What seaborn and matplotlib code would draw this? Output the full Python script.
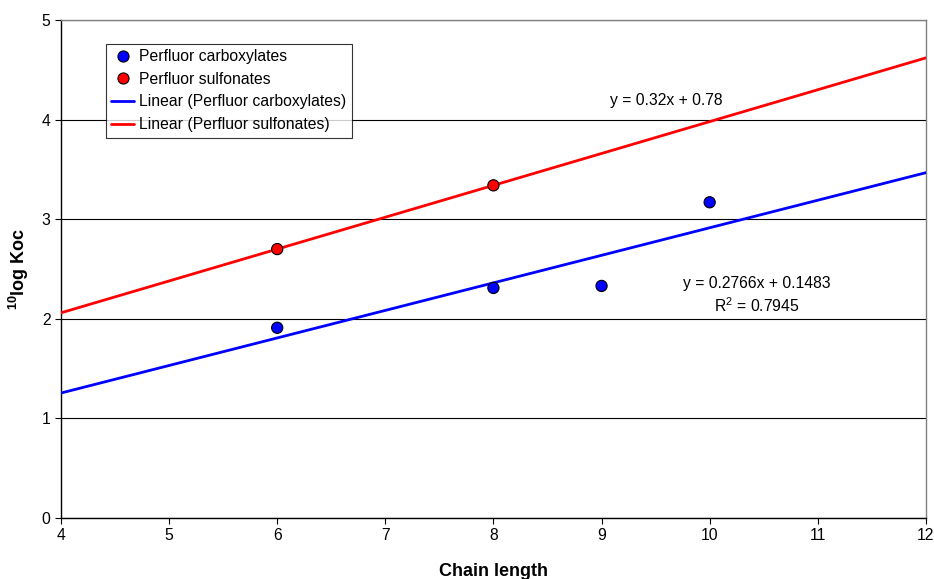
import numpy as np
import pandas as pd
import seaborn as sns
import matplotlib
matplotlib.use("Agg")
import matplotlib.pyplot as plt

sns.set_style("white")
plt.rcParams['font.family'] = ['Liberation Sans', 'DejaVu Sans']
plt.rcParams['mathtext.fontset'] = 'custom'
plt.rcParams['mathtext.rm'] = 'Liberation Sans'
plt.rcParams['mathtext.bf'] = 'Liberation Sans:bold'
plt.rcParams['text.color'] = 'black'
plt.rcParams['axes.labelcolor'] = 'black'
plt.rcParams['xtick.color'] = 'black'
plt.rcParams['ytick.color'] = 'black'

# data
carbox_x = [6, 8, 9, 10]
carbox_y = [1.91, 2.31, 2.33, 3.17]
sulfo_x = [6, 8]
sulfo_y = [2.70, 3.34]
names = ["Perfluor carboxylates", "Perfluor sulfonates"]
colors = ["#0000FF", "#FF0000"]

df = pd.DataFrame({
    "chain": carbox_x + sulfo_x,
    "koc": carbox_y + sulfo_y,
    "group": [names[0]] * len(carbox_x) + [names[1]] * len(sulfo_x),
})

fs = 11.3

fig = plt.figure(figsize=(9.34, 5.79), dpi=100)
ax = fig.add_axes([0.0653, 0.1054, 0.926, 0.860])

sns.scatterplot(data=df, x="chain", y="koc", hue="group", hue_order=names,
                palette=colors, s=65, edgecolor="black", linewidth=0.8,
                zorder=4, ax=ax, legend=False)

# linear trendlines over the whole x range
xfit = np.array([4, 12])
for xs, ys, c in [(carbox_x, carbox_y, colors[0]), (sulfo_x, sulfo_y, colors[1])]:
    k, b = np.polyfit(xs, ys, 1)
    ax.plot(xfit, k * xfit + b, color=c, lw=2, zorder=3)

handles = []
for c, n in zip(colors, names):
    handles.append(plt.Line2D([], [], ls="none", marker="o", ms=8,
                              mfc=c, mec="black", mew=0.8, label=n))
for c, n in zip(colors, names):
    handles.append(plt.Line2D([], [], color=c, lw=2, label="Linear (" + n + ")"))

leg = ax.legend(handles=handles, loc="upper left", bbox_to_anchor=(0.052, 0.952),
                frameon=True, fancybox=False, fontsize=fs, handlelength=1.45,
                handletextpad=0.3, borderpad=0.35, labelspacing=0.48,
                borderaxespad=0)
leg.get_frame().set_edgecolor("black")
leg.get_frame().set_linewidth(0.8)

ax.text(9.6, 4.19, "y = 0.32x + 0.78", ha="center", va="center", fontsize=fs)
ax.text(10.44, 2.35, "y = 0.2766x + 0.1483", ha="center", va="center", fontsize=fs)
ax.text(10.44, 2.13, "R$^2$ = 0.7945", ha="center", va="center", fontsize=fs)

ax.set_xlim(4, 12)
ax.set_ylim(0, 5)
ax.set_xticks(range(4, 13))
ax.set_yticks(range(0, 6))
ax.yaxis.grid(True, color="black", lw=0.8)
ax.set_axisbelow(True)
ax.tick_params(axis="both", direction="out", length=4, width=0.8,
               labelsize=fs, color="black", left=True, bottom=True)

for s in ["left", "bottom"]:
    ax.spines[s].set_color("black")
    ax.spines[s].set_linewidth(1)
for s in ["top", "right"]:
    ax.spines[s].set_color("#808080")
    ax.spines[s].set_linewidth(1)

ax.set_xlabel("Chain length", fontsize=13, fontweight="bold", labelpad=14)
ax.set_ylabel(r"$\mathbf{^{10}}$log Koc", fontsize=13, fontweight="bold", labelpad=8)

fig.savefig("out.png", dpi=100)
